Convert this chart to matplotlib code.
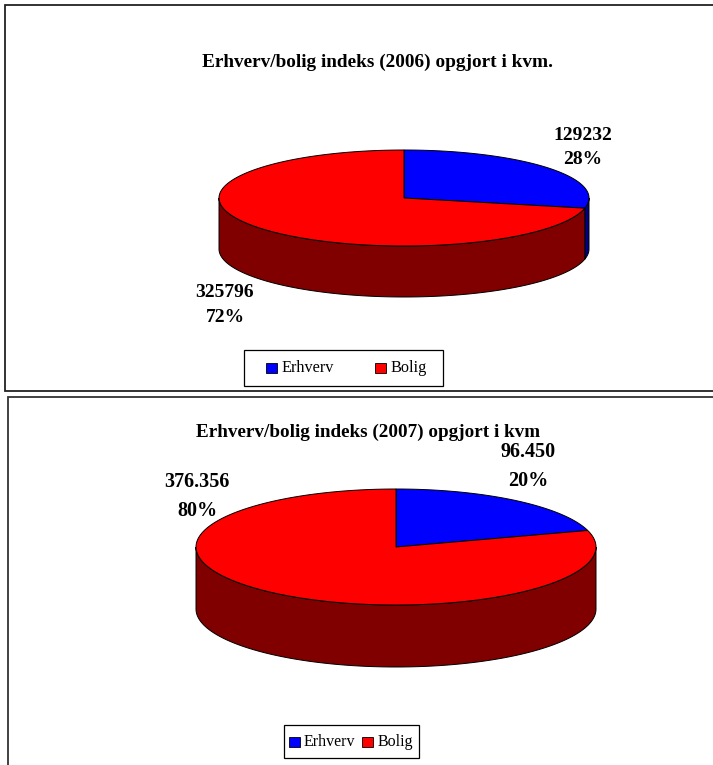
import numpy as np
import matplotlib
matplotlib.use("Agg")
from matplotlib import pyplot as plt
from matplotlib.patches import Rectangle

plt.rcParams["font.family"] = ["Liberation Serif", "DejaVu Serif"]

categories = ["Erhverv", "Bolig"]
values_2006 = [129232, 325796]
values_2007 = [96450, 376356]
labels_2006 = ["129232\n28%", "325796\n72%"]
labels_2007 = ["96.450\n20%", "376.356\n80%"]
title_2006 = "Erhverv/bolig indeks (2006) opgjort i kvm."
title_2007 = "Erhverv/bolig indeks (2007) opgjort i kvm"

colors = ["#0000ff", "#ff0000"]
side_colors = ["#000080", "#800000"]


def rim(cx, cy, rx, ry, a0, a1, dy=0):
    # angles run clockwise from 12 o'clock, in radians
    t = np.linspace(a0, a1, 200)
    return cx + rx * np.sin(t), cy - ry * np.cos(t) + dy


def pie3d(ax, values, cx, cy, rx, ry, depth):
    fr = np.array(values) / sum(values)
    edges = np.concatenate([[0], np.cumsum(fr)]) * 2 * np.pi

    # side wall, only the front half shows
    for i in range(len(values)):
        a0 = max(edges[i], np.pi / 2)
        a1 = min(edges[i + 1], 3 * np.pi / 2)
        if a1 <= a0:
            continue
        x, y = rim(cx, cy, rx, ry, a0, a1)
        xb, yb = rim(cx, cy, rx, ry, a0, a1, depth)
        ax.fill(np.r_[x, xb[::-1]], np.r_[y, yb[::-1]], fc=side_colors[i],
                ec="black", lw=0.7, zorder=2)

    # top face
    for i in range(len(values)):
        x, y = rim(cx, cy, rx, ry, edges[i], edges[i + 1])
        ax.fill(np.r_[cx, x], np.r_[cy, y], fc=colors[i], ec="black", lw=0.7,
                zorder=3)


def legend_box(ax, x0, x1, y0, y1, patch_x, text_x, size):
    ax.add_patch(Rectangle((x0, y0), x1 - x0, y1 - y0, fc="white", ec="black",
                           lw=0.9, zorder=4))
    ymid = (y0 + y1) / 2
    for name, c, px, tx in zip(categories, colors, patch_x, text_x):
        ax.add_patch(Rectangle((px, ymid - 5), 11, 10, fc=c, ec="black", lw=0.6,
                               zorder=5))
        ax.text(tx, ymid, name, fontsize=size, ha="left", va="center", zorder=5)


fig = plt.figure(figsize=(7.13, 7.65), dpi=100)
ax = fig.add_axes([0, 0, 1, 1])
ax.set_xlim(0, 713)
ax.set_ylim(765, 0)
ax.axis("off")

# the two pasted chart frames
ax.add_patch(Rectangle((5, 5), 740, 386, fc="white", ec="#222222", lw=1.3, zorder=1))
ax.add_patch(Rectangle((8, 397), 740, 400, fc="white", ec="#333333", lw=1.3, zorder=1))

pie3d(ax, values_2006, 404, 198, 185, 48, 51)
pie3d(ax, values_2007, 396, 547, 200, 58, 62)

bold = dict(fontweight="bold", color="black", ha="center", va="center", zorder=5)
ax.text(377, 62, title_2006, fontsize=13.9, **bold)
ax.text(368, 432, title_2007, fontsize=13.8, **bold)

ax.text(583, 147.5, labels_2006[0], fontsize=14, linespacing=1.5, **bold)
ax.text(225, 305, labels_2006[1], fontsize=14, linespacing=1.55, **bold)
ax.text(528, 466.5, labels_2007[0], fontsize=14.5, linespacing=1.55, **bold)
ax.text(197, 496.5, labels_2007[1], fontsize=14.5, linespacing=1.55, **bold)

legend_box(ax, 244, 443, 350, 386, [266, 375], [281, 390], 11.7)
legend_box(ax, 284, 419, 725, 758, [289, 362], [304, 378], 11.5)

plt.savefig("out.png", dpi=100)
